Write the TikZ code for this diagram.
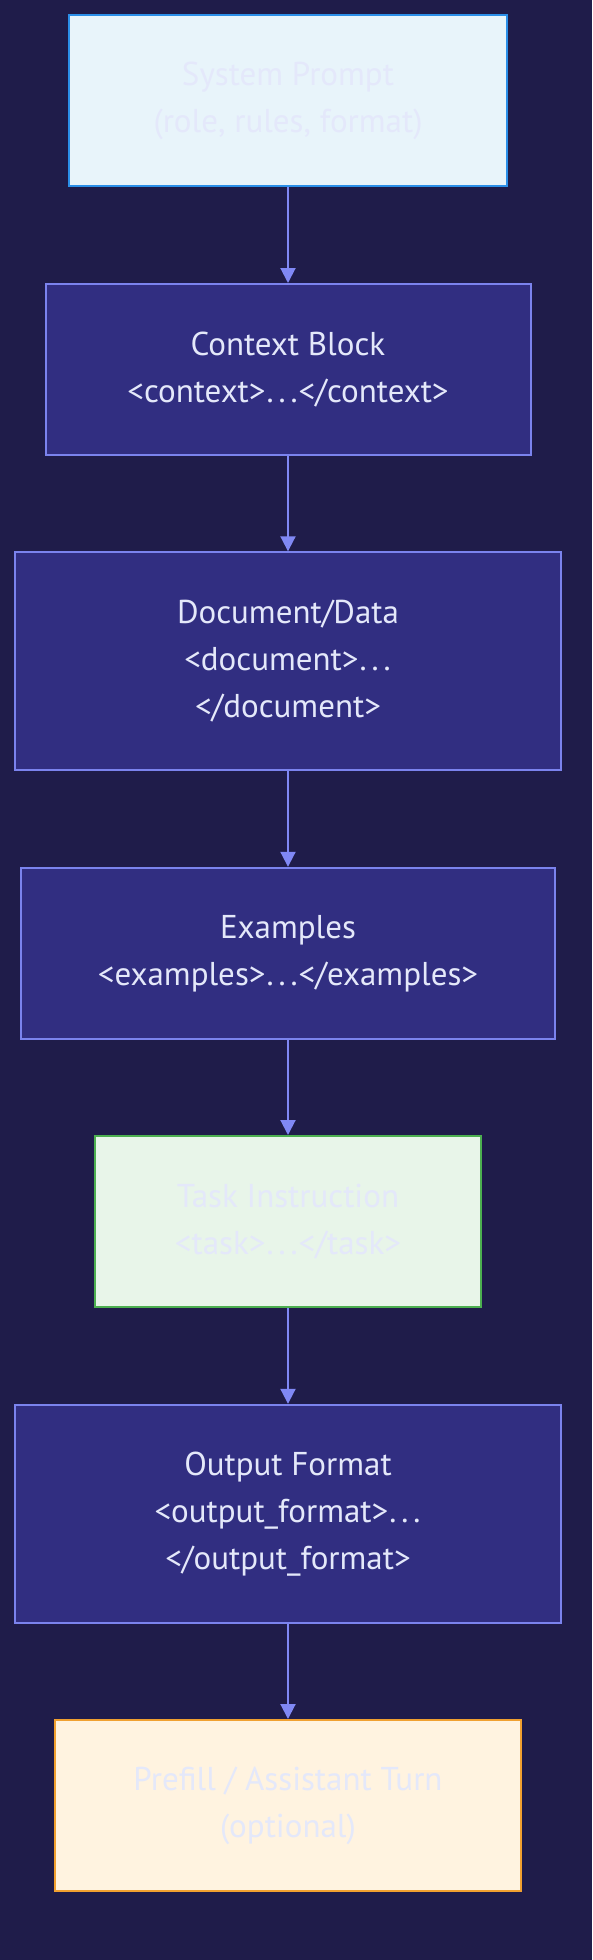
\documentclass[tikz,border=0pt]{standalone}
\usepackage{fontspec}
\setmainfont{PT Sans}
\usetikzlibrary{arrows.meta}
\definecolor{bgc}{HTML}{1F1C4A}
\definecolor{darkfill}{HTML}{312E81}
\definecolor{darkline}{HTML}{7B83EE}
\definecolor{arrowc}{HTML}{8088F5}
\definecolor{txt}{HTML}{E4E8FA}
\definecolor{bluefill}{HTML}{E8F4FA}
\definecolor{blueline}{HTML}{2B8FE8}
\definecolor{greenfill}{HTML}{E8F5E9}
\definecolor{greenline}{HTML}{4CAF50}
\definecolor{orangefill}{HTML}{FFF3E0}
\definecolor{orangeline}{HTML}{F0A030}
\newcommand{\dotsx}{\kern1pt.\kern5pt.\kern5pt.\kern1pt}
\tikzset{
  x=1pt,y=1pt,
  box/.style={rectangle, line width=2pt, align=center, inner sep=0pt,
    font=\fontsize{33}{47}\selectfont, text=txt},
  darkbox/.style={box, fill=darkfill, draw=darkline},
  bluebox/.style={box, fill=bluefill, draw=blueline},
  greenbox/.style={box, fill=greenfill, draw=greenline},
  orangebox/.style={box, fill=orangefill, draw=orangeline},
  flow/.style={draw=arrowc, line width=2pt, -{Triangle[length=15pt,width=15pt]}}
}
\begin{document}
\begin{tikzpicture}
\fill[bgc] (0,0) rectangle (592,-1960);
\useasboundingbox (0,0) rectangle (592,-1960);
\node[bluebox, minimum width=438pt, minimum height=171pt] (sys) at (288,-100.8)
  {System Prompt\\(role, rules, format)};
\node[darkbox, minimum width=485pt, minimum height=171pt] (ctx) at (288,-369.5)
  {Context Block\\<context>\dotsx</context>};
\node[darkbox, minimum width=546pt, minimum height=218pt] (doc) at (288,-661.3)
  {Document/Data\\<document>\dotsx\\</document>};
\node[darkbox, minimum width=534pt, minimum height=171pt] (ex) at (288,-953.3)
  {Examples\\<examples>\dotsx</examples>};
\node[greenbox, minimum width=386pt, minimum height=171pt] (task) at (288,-1221.5)
  {Task Instruction\\<task>\dotsx</task>};
\node[darkbox, minimum width=546pt, minimum height=218pt] (out) at (288,-1513.8)
  {Output Format\\<output\_format>\dotsx\\</output\_format>};
\node[orangebox, minimum width=466pt, minimum height=171pt] (pre) at (288,-1805.5)
  {Prefill / Assistant Turn\\(optional)};
\draw[flow] (sys) -- (ctx);
\draw[flow] (ctx) -- (doc);
\draw[flow] (doc) -- (ex);
\draw[flow] (ex) -- (task);
\draw[flow] (task) -- (out);
\draw[flow] (out) -- (pre);
\end{tikzpicture}
\end{document}
